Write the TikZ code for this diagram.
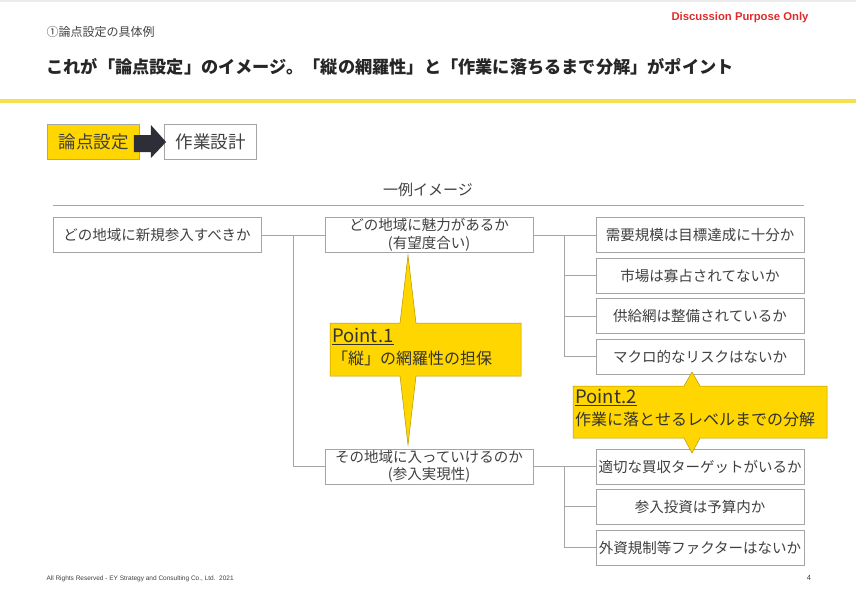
\documentclass[tikz,border=0pt]{standalone}
\usepackage{fontspec}
\setmainfont{Noto Sans CJK JP}
\newfontfamily\latinsans{Liberation Sans}
\usepackage{tikz}
\usetikzlibrary{calc}
\definecolor{eyyellow}{RGB}{255, 214, 0}
\definecolor{lineyellow}{RGB}{246, 224, 80}
\definecolor{eydark}{RGB}{46, 46, 56}
\definecolor{boxgray}{RGB}{165, 165, 165}
\definecolor{textgray}{RGB}{64, 64, 64}
\definecolor{alertred}{RGB}{222, 44, 44}
\newcommand{\pointhead}[1]{{\fontsize{18.5}{21}\selectfont\underline{#1}}}

\begin{document}
\begin{tikzpicture}[x=1pt, y=-1pt,
    treebox/.style={draw=boxgray, line width=0.8pt, fill=white, text=textgray,
        minimum width=208pt, minimum height=35pt, inner sep=0pt, align=center,
        font=\fontsize{14.5}{17.5}\selectfont},
    stepbox/.style={draw=boxgray, line width=0.8pt, text=textgray,
        minimum width=92pt, minimum height=35pt, inner sep=0pt,
        font=\fontsize{17.5}{19}\selectfont},
    link/.style={draw=boxgray, line width=0.8pt},
    callout/.style={fill=eyyellow, draw=eyyellow!70!black, line width=0.5pt},
    pointtext/.style={anchor=north west, align=left, text=textgray!80!black,
        inner sep=0pt, font=\fontsize{16}{22}\selectfont}]
    \useasboundingbox (0,0) rectangle (856,608);

    % header
    \fill[gray!15] (0,0) rectangle (856,2);
    \fill[lineyellow] (0,99) rectangle (856,103);
    \node[anchor=east, text=alertred, font=\latinsans\bfseries\fontsize{11.3}{13}\selectfont] (purpose) at (812,18) {Discussion Purpose Only};
    \node[anchor=west, text=textgray, font=\fontsize{12}{14}\selectfont] (section) at (43,32) {①論点設定の具体例};
    \node[anchor=west, text=black!85, font=\bfseries\fontsize{17.2}{20}\selectfont] (title) at (43,67) {これが「論点設定」のイメージ。「縦の網羅性」と「作業に落ちるまで分解」がポイント};

    % steps
    \node[stepbox, fill=eyyellow] (issue) at (93.5,142) {論点設定};
    \node[stepbox, fill=white] (work) at (210.5,142) {作業設計};
    \fill[eydark] ($(issue.east)+(-6,-7)$) -- ($(issue.east)+(11,-7)$) -- ($(issue.east)+(11,-17)$)
        -- ($(work.west)+(2,0)$) -- ($(issue.east)+(11,16)$) -- ($(issue.east)+(11,10)$)
        -- ($(issue.east)+(-6,10)$) -- cycle;

    \node[text=textgray, font=\fontsize{15}{17}\selectfont] (example) at (428,190) {一例イメージ};
    \draw[link] (53,205) -- (804,205);

    % tree
    \node[treebox] (area) at (157,235) {どの地域に新規参入すべきか};
    \node[treebox] (appeal) at (429,235) {どの地域に魅力があるか\\(有望度合い)};
    \node[treebox] (entry) at (429,466.5) {その地域に入っていけるのか\\(参入実現性)};

    \node[treebox] (demand) at (700,235) {需要規模は目標達成に十分か};
    \node[treebox] (market) at (700,275.5) {市場は寡占されてないか};
    \node[treebox] (supply) at (700,316) {供給網は整備されているか};
    \node[treebox] (macro) at (700,356.5) {マクロ的なリスクはないか};

    \node[treebox] (target) at (700,466.5) {適切な買収ターゲットがいるか};
    \node[treebox] (budget) at (700,506.5) {参入投資は予算内か};
    \node[treebox] (rules) at (700,547.5) {外資規制等ファクターはないか};

    % connectors
    \coordinate (split1) at ($(area.east)!0.5!(appeal.west)$);
    \coordinate (split2) at ($(appeal.east)!0.5!(demand.west)$);
    \coordinate (split3) at ($(entry.east)!0.5!(target.west)$);
    \draw[link] (area.east) -- (appeal.west);
    \draw[link] (split1) |- (entry.west);
    \draw[link] (appeal.east) -- (demand.west);
    \foreach \n in {market, supply, macro}
        \draw[link] (split2) |- (\n.west);
    \draw[link] (entry.east) -- (target.west);
    \foreach \n in {budget, rules}
        \draw[link] (split3) |- (\n.west);

    % Point.1
    \filldraw[callout] (330,323) -- (400,323) -- (408,255) -- (416,323) -- (521,323) -- (521,376)
        -- (416,376) -- (408,445) -- (400,376) -- (330,376) -- cycle;
    \node[pointtext] (point1) at (332,328) {\pointhead{Point.1}\\「縦」の網羅性の担保};

    % Point.2
    \filldraw[callout] (573,386) -- (684,386) -- (692,372) -- (700,386) -- (827,386) -- (827,438)
        -- (700,438) -- (692,453) -- (684,438) -- (573,438) -- cycle;
    \node[pointtext] (point2) at (575,389) {\pointhead{Point.2}\\作業に落とせるレベルまでの分解};

    % footer
    \node[anchor=west, text=textgray, font=\latinsans\fontsize{6.5}{8}\selectfont] (rights) at (43,579) {All Rights Reserved - EY Strategy and Consulting Co., Ltd.\ \ 2021};
    \node[text=textgray, font=\latinsans\fontsize{7.5}{9}\selectfont] (page) at (809,578) {4};
\end{tikzpicture}
\end{document}
